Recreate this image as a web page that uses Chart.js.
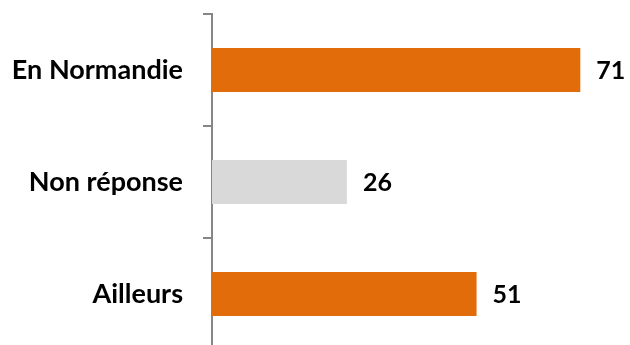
<!DOCTYPE html>
<html>
<head>
<meta charset="utf-8">
<script src="https://cdn.jsdelivr.net/npm/chart.js@4"></script>
<style>
  html, body { margin: 0; padding: 0; background: #fff; overflow: hidden; }
  canvas { display: block; }
</style>
</head>
<body>
<canvas id="chart" width="630" height="350"></canvas>
<script>
const categories = ['En Normandie', 'Non réponse', 'Ailleurs'];
const values = [71, 26, 51];
const barColors = ['#E36C0A', '#D9D9D9', '#E36C0A'];

// value labels drawn after the end of each bar
const valueLabels = {
  id: 'valueLabels',
  afterDatasetsDraw(chart) {
    const ctx = chart.ctx;
    const meta = chart.getDatasetMeta(0);
    ctx.save();
    ctx.font = 'bold 25px Lato, "Open Sans", sans-serif';
    ctx.fillStyle = '#000';
    ctx.textBaseline = 'middle';
    ctx.textAlign = 'left';
    meta.data.forEach((bar, i) => {
      ctx.fillText(String(values[i]), bar.x + 16, bar.y + 1);
    });
    ctx.restore();
  }
};

const config = {
  type: 'bar',
  data: {
    labels: categories,
    datasets: [{
      data: values,
      backgroundColor: barColors,
      borderWidth: 0,
      categoryPercentage: 1,
      barPercentage: 0.393
    }]
  },
  options: {
    indexAxis: 'y',
    responsive: false,
    animation: false,
    layout: { padding: { top: 14, right: 3, left: 0, bottom: 0 } },
    plugins: { legend: { display: false }, tooltip: { enabled: false } },
    scales: {
      x: { display: false, min: 0, max: 80 },
      y: {
        afterFit(scale) {
          scale.width = 212;
          scale.paddingTop = 0;
          scale.paddingBottom = 0;
        },
        border: { display: true, color: '#868686', width: 2 },
        grid: { drawOnChartArea: false, drawTicks: true, tickLength: 9, color: '#868686', lineWidth: 2, offset: true },
        ticks: {
          padding: 20,
          color: '#000',
          font: { family: 'Lato, "Open Sans", sans-serif', size: 27, weight: 'bold' }
        }
      }
    }
  },
  plugins: [valueLabels]
};

const chart = new Chart(document.getElementById('chart'), config);
</script>
</body>
</html>
